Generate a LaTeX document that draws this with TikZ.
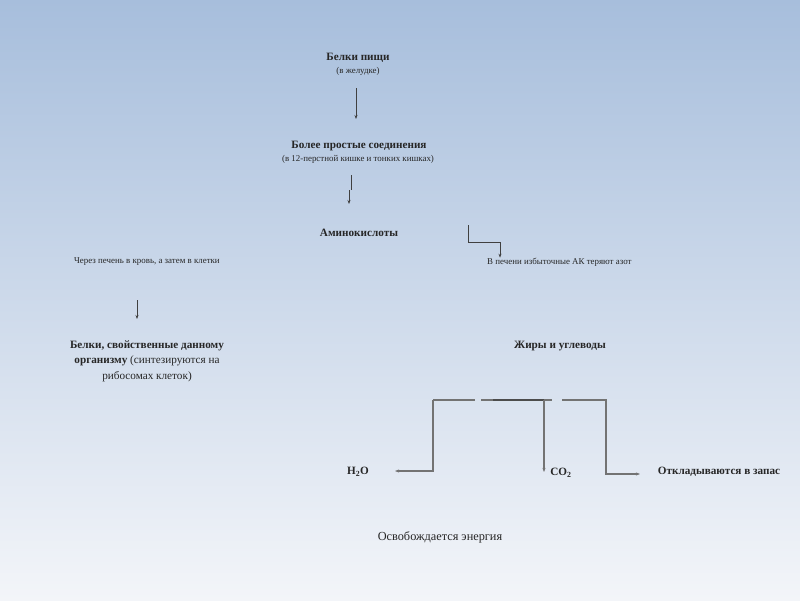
\documentclass[tikz,border=0pt]{standalone}
\usepackage{fontspec}
\setmainfont{Liberation Serif}
\usetikzlibrary{arrows.meta}
\begin{document}
\begin{tikzpicture}[x=1pt,y=-1pt,
  lbl/.style={inner sep=0pt, text=black!85, align=center},
  big/.style={lbl, font=\fontsize{11.2}{13}\selectfont\bfseries},
  small/.style={lbl, font=\fontsize{8.9}{10}\selectfont},
  conn/.style={draw=black!75, line width=0.8pt},
  arr/.style={conn, -{Stealth[length=4pt,width=3pt]}},
  gline/.style={draw=black!55, line width=1.3pt},
  garr/.style={gline, -{Stealth[length=4pt,width=3pt]}}
]
\useasboundingbox (0,0) rectangle (800,600);
\shade[top color={rgb,255:red,167;green,190;blue,220}, bottom color={rgb,255:red,243;green,245;blue,249}] (0,0) rectangle (800,600);

\node[big] (bp) at (358,58) {Белки пищи};
\node[small] (bpz) at (358,71) {(в желудке)};
\node[big] (ps) at (359,146) {Более простые соединения};
\node[small] (psz) at (358,159) {(в 12-перстной кишке и тонких кишках)};
\node[big] (ak) at (359,233) {Аминокислоты};
\node[small, anchor=west] (cp) at (74,262) {Через печень в кровь, а затем в клетки};
\node[small, anchor=west] (vp) at (487,262) {В печени избыточные АК теряют азот};
\node[lbl, font=\fontsize{11.2}{15.5}\selectfont] (bs) at (147,361) {\textbf{Белки, свойственные данному}\\ \textbf{организму} (синтезируются на\\ рибосомах клеток)};
\node[big] (zu) at (560,346) {Жиры и углеводы};
\node[big] (h2o) at (358,472) {H\textsubscript{2}O};
\node[big] (co2) at (561,473) {CO\textsubscript{2}};
\node[big] (ozap) at (719,472) {Откладываются в запас};
\node[lbl, font=\fontsize{12.3}{14}\selectfont] (oe) at (440,537) {Освобождается энергия};

% arrow 1
\coordinate (a1s) at (356,88);
\coordinate (a1e) at (356,119);
\draw[arr] (a1s) -- (a1e);
% arrow 2 (jogged)
\coordinate (a2s) at (351,175);
\coordinate (a2m) at (351,190);
\coordinate (a2n) at (349,190);
\coordinate (a2e) at (349,204);
\draw[conn] (a2s) -- (a2m);
\draw[arr] (a2n) -- (a2e);
% elbow to liver text
\coordinate (a3s) at (468,225);
\coordinate (a3m) at (468,242);
\coordinate (a3n) at (500,242);
\draw[arr] (a3s) -- (a3m) -- (a3n) -- (vp.north -| a3n);
% arrow to proteins
\coordinate (a4s) at (137,300);
\coordinate (a4e) at (137,319);
\draw[arr] (a4s) -- (a4e);

% bottom structure
\coordinate (t1) at (433,400);
\coordinate (t2) at (475,400);
\coordinate (t3) at (481,400);
\coordinate (t4) at (552,400);
\coordinate (t5) at (562,400);
\coordinate (t6) at (607,400);
\draw[gline] (t1) -- (t2);
\draw[gline] (t3) -- (t4);
\draw[gline] (t5) -- (t6);
\draw[draw=black!70, line width=1.5pt] (493,400) -- (544,400);
\coordinate (lb) at (433,471);
\coordinate (le) at (395,471);
\draw[garr] (t1) -- (lb) -- (le);
\coordinate (mt) at (544,400);
\coordinate (mb) at (544,472);
\draw[garr] (mt) -- (mb);
\coordinate (rb) at (606,474);
\coordinate (re) at (640,474);
\draw[garr] (606,400) -- (rb) -- (re);
\end{tikzpicture}
\end{document}
